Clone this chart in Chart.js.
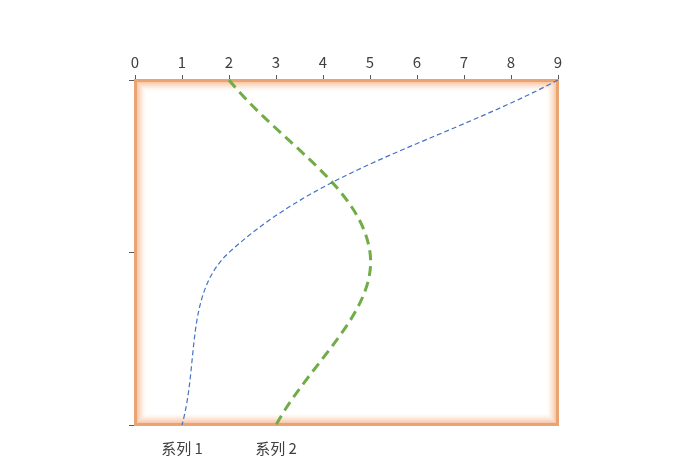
<!DOCTYPE html>
<html lang="zh">
<head>
<meta charset="UTF-8">
<title>系列</title>
<script src="https://cdn.jsdelivr.net/npm/chart.js"></script>
<style>
    html, body { margin: 0; padding: 0; background: #fff; }
    #wrap { width: 680px; height: 472px; }
</style>
</head>
<body>
<div id="wrap"><canvas id="myChart"></canvas></div>
<script>
    // categories run top -> bottom on the vertical axis
    const categories = ['1', '2', '3'];
    const seriesNames = ['系列 1', '系列 2'];
    const series1 = [9, 2, 1];
    const series2 = [2, 5, 3];
    const xMin = 0, xMax = 9, xStep = 1;

    const textColor = '#404040';
    const fontFamily = '"Noto Sans CJK SC", "Noto Sans", sans-serif';

    // orange plot area frame with a soft inner glow
    const frame = {
        id: 'frame',
        beforeDatasetsDraw(chart) {
            const a = chart.chartArea;
            const c = chart.ctx;
            c.save();
            for (let i = 11; i >= 1; i--) {
                const t = i / 11;
                c.strokeStyle = 'rgba(244,177,131,' + (0.9 * Math.pow(1 - t, 1.4)).toFixed(3) + ')';
                c.lineWidth = 1;
                c.strokeRect(a.left + i + 0.5, a.top + i + 0.5, a.width - 2 * i - 1, a.height - 2 * i - 1);
            }
            c.strokeStyle = '#E9A472';
            c.lineWidth = 3;
            c.strokeRect(a.left + 0.5, a.top + 0.5, a.width - 1, a.height - 1);
            c.restore();
        },
        afterDraw(chart) {
            // series names under the last point of each line
            const c = chart.ctx;
            c.save();
            c.fillStyle = textColor;
            c.font = '15px ' + fontFamily;
            c.textAlign = 'center';
            c.textBaseline = 'middle';
            chart.data.datasets.forEach((ds, i) => {
                const pts = chart.getDatasetMeta(i).data;
                const p = pts[pts.length - 1];
                c.fillText(ds.label, p.x, chart.chartArea.bottom + 23);
            });
            c.restore();
        }
    };

    const ctx = document.getElementById('myChart');
    new Chart(ctx, {
        type: 'line',
        data: {
            labels: categories,
            datasets: [
                { label: seriesNames[0], data: series1, borderColor: '#4472C4', borderWidth: 1.2, borderDash: [5, 3], tension: 0.36, pointRadius: 0, fill: false },
                { label: seriesNames[1], data: series2, borderColor: '#70AD47', borderWidth: 3, borderDash: [10, 6], tension: 0.36, pointRadius: 0, fill: false }
            ]
        },
        plugins: [frame],
        options: {
            indexAxis: 'y',
            responsive: true,
            maintainAspectRatio: false,
            animation: false,
            layout: { padding: { left: 0, right: 122, top: 0, bottom: 47 } },
            plugins: { legend: { display: false }, tooltip: { enabled: false } },
            scales: {
                x: {
                    type: 'linear', position: 'top', min: xMin, max: xMax,
                    ticks: { stepSize: xStep, color: textColor, font: { size: 15, family: fontFamily }, padding: 4 },
                    grid: { drawOnChartArea: false, drawTicks: true, tickLength: 5, color: '#595959' },
                    border: { display: false },
                    afterFit(s) { s.height = 80; }
                },
                y: {
                    type: 'category', offset: false,
                    ticks: { display: false },
                    grid: { drawOnChartArea: false, drawTicks: true, tickLength: 6, color: '#595959', offset: false },
                    border: { display: false },
                    afterFit(s) { s.width = 135; }
                }
            }
        }
    });
</script>
</body>
</html>
